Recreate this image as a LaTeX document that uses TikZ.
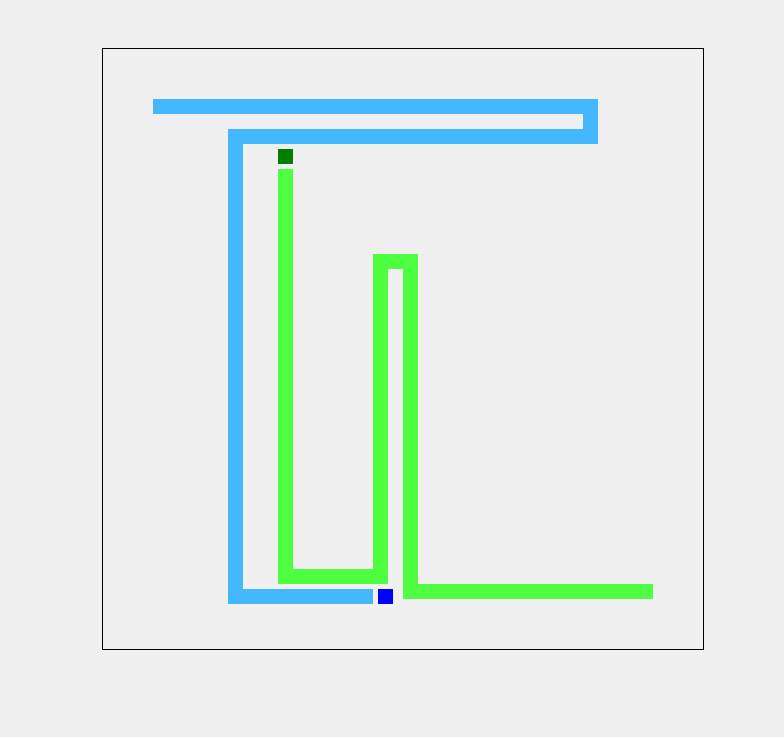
\documentclass[tikz,border=0pt]{standalone}
\begin{document}
\begin{tikzpicture}[x=1pt,y=-1pt,
  route/.style={line width=15pt,line join=miter,line cap=butt},
  marker/.style={draw=none,minimum size=15pt,inner sep=0pt,outer sep=0pt}]
\definecolor{bg}{RGB}{240,240,240}
\definecolor{lblue}{RGB}{68,184,255}
\definecolor{lgreen}{RGB}{77,255,64}
\definecolor{dgreen}{RGB}{0,128,0}
\fill[bg] (0,0) rectangle (784,737);
\useasboundingbox (0,0) rectangle (784,737);
\draw[black,line width=1pt] (102.5,48.5) rectangle (703,649);
\draw[route,lblue] (153,106.5) -- (590.5,106.5) -- (590.5,136.5) -- (235.5,136.5) -- (235.5,596.5) -- (373,596.5);
\draw[route,lgreen] (285.5,169) -- (285.5,576.5) -- (380.5,576.5) -- (380.5,261.5) -- (410.5,261.5) -- (410.5,591.5) -- (653,591.5);
\node[marker,fill=dgreen] (start) at (285.5,156.5) {};
\node[marker,fill=blue] (goal) at (385.5,596.5) {};
\end{tikzpicture}
\end{document}
